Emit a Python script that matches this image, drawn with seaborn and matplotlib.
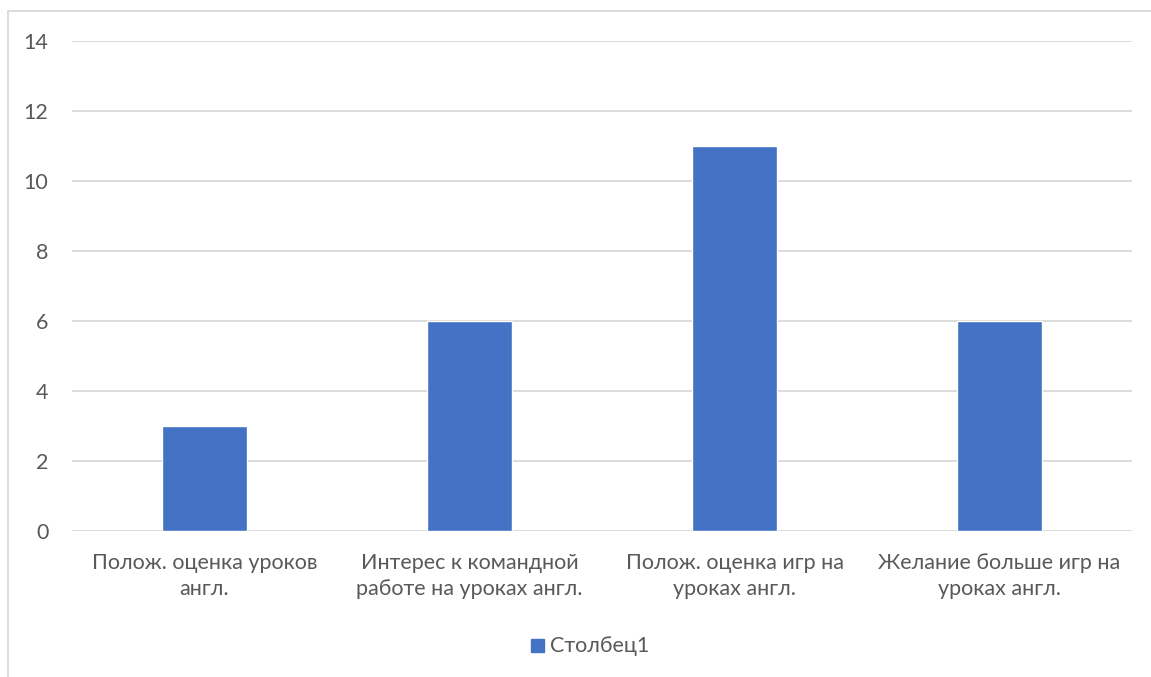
import matplotlib
matplotlib.use("Agg")
import matplotlib.pyplot as plt
from matplotlib.patches import Rectangle
import seaborn as sns
import pandas as pd

categories = [
    "Полож. оценка уроков\nангл.",
    "Интерес к командной\nработе на уроках англ.",
    "Полож. оценка игр на\nуроках англ.",
    "Желание больше игр на\nуроках англ.",
]
values = [3, 6, 11, 6]
series_name = "Столбец1"
y_ticks = [0, 2, 4, 6, 8, 10, 12, 14]

W, H = 1151, 677
bar_color = "#4472C4"
text_color = "#595959"
grid_color = "#D9D9D9"
fs = 15.5

sns.set_theme(style="white")
plt.rcParams["font.family"] = ["Lato", "DejaVu Sans"]

df = pd.DataFrame({"category": categories, "value": values, "series": series_name})

fig = plt.figure(figsize=(W / 100, H / 100), dpi=100)
ax = fig.add_axes([72 / W, 1 - 531 / H, (1132 - 72) / W, (531 - 41) / H])

sns.barplot(data=df, x="category", y="value", hue="series", palette=[bar_color],
            saturation=1, width=0.32, ax=ax, legend=False, zorder=3)

ax.set_ylim(0, 14)
ax.set_xlim(-0.5, len(categories) - 0.5)
ax.set_yticks(y_ticks)
ax.set_yticklabels([str(t) for t in y_ticks])
ax.yaxis.grid(True, color=grid_color, linewidth=1.3, zorder=0)
ax.set_axisbelow(True)
for s in ax.spines.values():
    s.set_visible(False)
ax.tick_params(axis="y", length=0, pad=17, labelsize=fs, labelcolor=text_color)
ax.tick_params(axis="x", length=0, pad=16, labelsize=fs, labelcolor=text_color)
ax.set_xlabel("")
ax.set_ylabel("")
for lbl in ax.get_xticklabels():
    lbl.set_linespacing(1.38)

# chart frame
fig.patches.append(Rectangle((8 / W, -0.05), 1.1, 1 - 11 / H + 0.05,
                             transform=fig.transFigure, fill=False,
                             edgecolor="#D9D9D9", linewidth=1.3))

# legend
fig.patches.append(Rectangle((531 / W, 1 - 652 / H), 13 / W, 13 / H,
                             transform=fig.transFigure, color=bar_color))
fig.text(550 / W, 1 - 646 / H, series_name, ha="left", va="center",
         fontsize=fs, color=text_color)

fig.savefig("out.png", dpi=100, facecolor="white")
